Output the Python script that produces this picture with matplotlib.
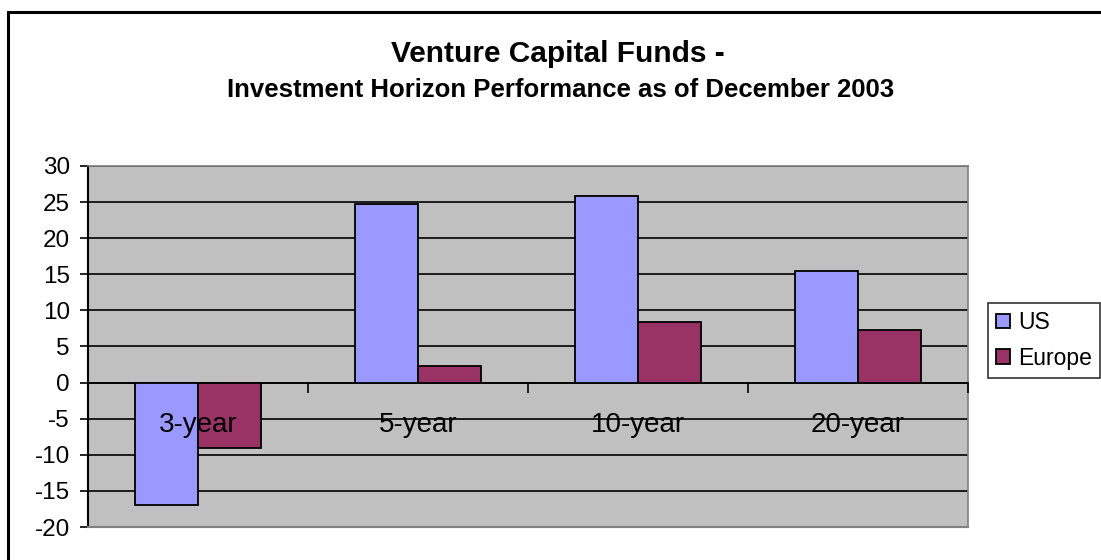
import matplotlib
matplotlib.use('Agg')
import matplotlib.pyplot as plt
from matplotlib.patches import Rectangle
import numpy as np

plt.rcParams['font.family'] = ['Liberation Sans', 'DejaVu Sans']

# values
horizons = ['3-year', '5-year', '10-year', '20-year']
us = [-17.0, 24.7, 25.8, 15.4]
europe = [-9.0, 2.3, 8.4, 7.3]
series_names = ['US', 'Europe']
yticks = [-20, -15, -10, -5, 0, 5, 10, 15, 20, 25, 30]

W, H = 1101, 560
fig = plt.figure(figsize=(W / 100, H / 100), dpi=100)
fig.patch.set_facecolor('white')

# outer chart border (runs off the right and bottom edges like the original)
fig.patches.append(Rectangle((8 / W, -0.1), 1.2, (H - 12) / H + 0.1,
                             transform=fig.transFigure, fill=False,
                             edgecolor='black', linewidth=2.2, zorder=0))

ax = fig.add_axes([88 / W, (H - 527) / H, 880 / W, 361 / H])
ax.set_facecolor('#C0C0C0')

x = np.arange(len(horizons)) + 0.5
bw = 63 / 220
ax.bar(x - bw / 2, us, bw, color='#9999FF', edgecolor='black', linewidth=1.3, zorder=3, label=series_names[0])
ax.bar(x + bw / 2, europe, bw, color='#993366', edgecolor='black', linewidth=1.3, zorder=3, label=series_names[1])

ax.set_xlim(0, len(horizons))
ax.set_ylim(-20, 30)
ax.set_yticks(yticks)
ax.set_yticklabels([str(v) for v in yticks], fontsize=17.5)
ax.yaxis.grid(True, color='black', linewidth=1.2)
ax.yaxis.set_zorder(1)
ax.tick_params(axis='y', direction='out', length=6, width=1.2, pad=7)

# category axis crosses at zero, labels drawn over the bars
ax.spines['bottom'].set_position(('data', 0))
ax.spines['bottom'].set_linewidth(1.2)
ax.spines['left'].set_linewidth(1.5)
for s in ['top', 'right']:
    ax.spines[s].set_color('#808080')
    ax.spines[s].set_linewidth(1.2)
ax.axhline(-20, color='#808080', linewidth=1.5, clip_on=False, zorder=4)

ax.set_xticks(np.arange(len(horizons) + 1))
ax.set_xticklabels([])
ax.tick_params(axis='x', which='major', direction='out', length=7, width=1.2)
ax.set_xticks(x, minor=True)
ax.set_xticklabels(horizons, minor=True, fontsize=20)
ax.tick_params(axis='x', which='minor', length=0, pad=21)
ax.xaxis.set_zorder(5)

fig.text(558 / W, 1 - 54 / H, 'Venture Capital Funds -', ha='center', va='center',
         fontsize=21.5, fontweight='bold')
fig.text(561 / W, 1 - 90 / H, 'Investment Horizon Performance as of December 2003',
         ha='center', va='center', fontsize=18.5, fontweight='bold')

leg = fig.legend(loc='upper left', bbox_to_anchor=(988 / W, 1 - 303 / H),
                 fontsize=16.5, frameon=True, fancybox=False, edgecolor='black',
                 handlelength=0.6, handleheight=0.6, handletextpad=0.35,
                 borderpad=0.35, labelspacing=0.55, borderaxespad=0)
leg.get_frame().set_linewidth(1.2)

fig.savefig('out.png', dpi=100)
